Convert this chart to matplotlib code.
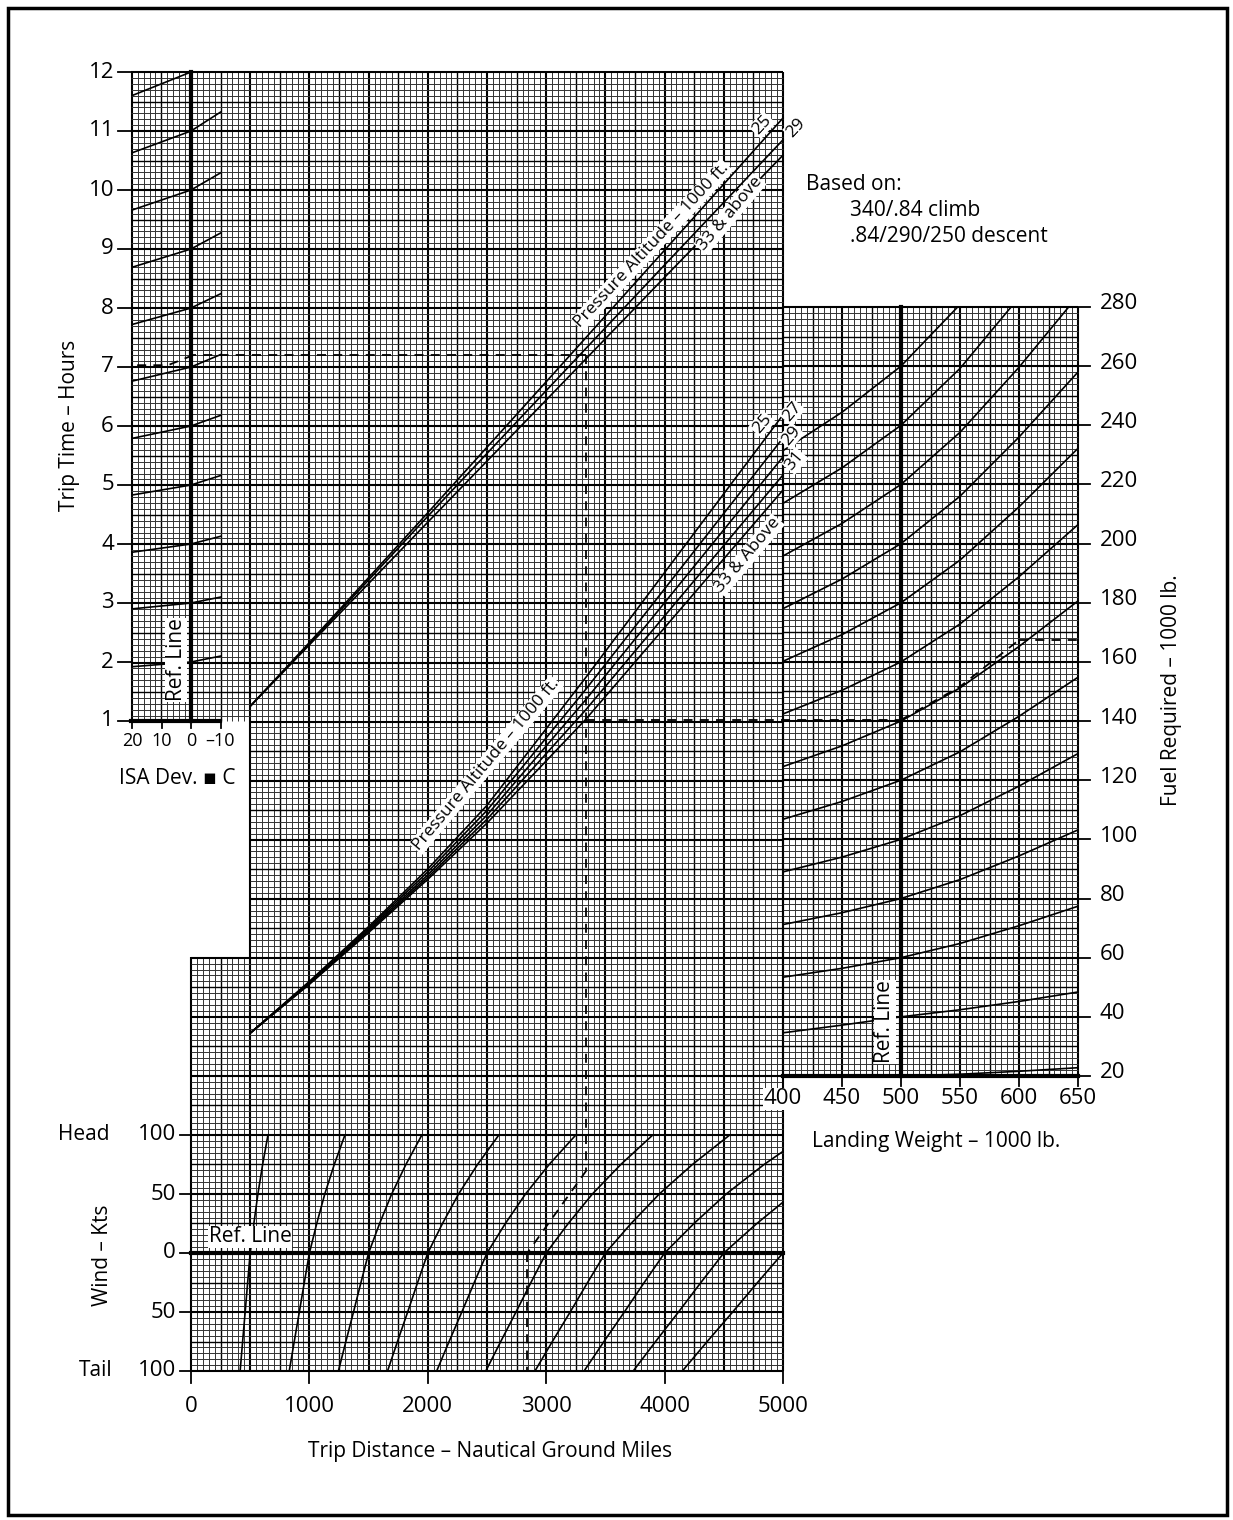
import numpy as np
import matplotlib
matplotlib.use("Agg")
import matplotlib.pyplot as plt
from matplotlib.collections import LineCollection
from matplotlib.patches import Rectangle

plt.rcParams['font.family'] = ['Open Sans', 'DejaVu Sans']

# ---- datos ----
hour_ticks = list(range(1, 13))
fuel_ticks = list(range(20, 281, 20))
dist_ticks = [0, 1000, 2000, 3000, 4000, 5000]
weight_ticks = [400, 450, 500, 550, 600, 650]
wind_ticks = [100, 50, 0, -50, -100]
wind_tick_labels = ['100', '50', '0', '50', '100']
isa_ticks = [20, 10, 0, -10]

# corrección ISA: tiempo en ISA +20, 0, -10
isa_dev = [20, 0, -10]
isa_base = [2, 3, 4, 5, 6, 7, 8, 9, 10, 11, 12]
isa_left = [1.92, 2.90, 3.86, 4.83, 5.79, 6.76, 7.72, 8.69, 9.66, 10.63, 11.60]
isa_right = [2.10, 3.10, 4.13, 5.16, 6.18, 7.21, 8.24, 9.27, 10.29, 11.32, 12.35]

# tiempo de viaje vs distancia (altitud de presión)
time_dist = [500, 1000, 1500, 2000, 3000, 4000, 5000]
time_alt25 = [1.25, 2.33, 3.43, 4.53, 6.75, 8.98, 11.22]
time_alt29 = [1.25, 2.31, 3.39, 4.47, 6.60, 8.73, 10.85]
time_alt33 = [1.25, 2.29, 3.33, 4.37, 6.44, 8.52, 10.59]

# combustible vs distancia
fuel_dist = [500, 1000, 1500, 2000, 2500, 3330, 5000]
fuel_alt25 = [34.5, 52.0, 70.5, 90.0, 111.5, 154.5, 243.5]
fuel_alt27 = [34.5, 51.7, 70.0, 89.0, 109.8, 150.5, 235.7]
fuel_alt29 = [34.5, 51.5, 69.5, 88.0, 108.2, 147.0, 229.3]
fuel_alt31 = [34.5, 51.2, 69.0, 87.2, 106.8, 143.6, 223.2]
fuel_alt33 = [34.5, 51.0, 68.5, 86.5, 105.5, 140.4, 218.1]

# corrección por peso de aterrizaje (razón respecto a la línea de referencia 500)
lw_weights = [400, 450, 500, 550, 600, 650]
lw_ref_fuel = [60, 80, 100, 120, 140, 160, 180, 200, 220, 240, 260]
lw_ratio = [0.89, 0.94, 1.0, 1.08, 1.18, 1.29]
lw_ratio_40 = [0.865, 0.93, 1.0, 1.06, 1.13, 1.21]
lw_ratio_20 = [np.nan, np.nan, 1.0, 1.03, 1.08, 1.14]

# corrección por viento (factor de distancia)
wind_kts = [-100, -75, -50, -25, 0, 25, 50, 75, 100]
wind_factor = [0.83, 0.872, 0.915, 0.957, 1.0, 1.062, 1.13, 1.21, 1.30]
wind_ref_dist = [500, 1000, 1500, 2000, 2500, 3000, 3500, 4000, 4500, 5000]

# ejemplo (líneas discontinuas)
ex_dist = 3340
ex_time = 7.2
ex_fuel = 140.4
ex_fuel_out = 167.4
ex_wind = 70
ex_ground = 2840


# ---- escalas (pixeles de la figura) ----
def px_dist(d): return 191 + np.asarray(d, float) * 0.1184
def py_time(t): return 721 - (np.asarray(t, float) - 1) * 59.0
def py_fuel(f): return 1076 - (np.asarray(f, float) - 20) * 2.958
def py_wind(w): return 1253 - np.asarray(w, float) * 1.18
def px_isa(i): return 191 - np.asarray(i, float) * 2.95
def px_wt(w): return 783 + (np.asarray(w, float) - 400) * 1.18


fig = plt.figure(figsize=(12.33, 15.2), dpi=100)
ax = fig.add_axes([0, 0, 1, 1])
ax.set_xlim(0, 1233)
ax.set_ylim(1520, 0)
ax.axis('off')

# marco exterior
ax.add_patch(Rectangle((8, 8), 1219, 1507, fill=False, lw=2.5, ec='black'))


def draw_grid(x0, x1, y0, y1, xs, ys):
    segs, lws, cols = [], [], []
    for i, x in xs:
        if x0 - 0.5 <= x <= x1 + 0.5:
            segs.append([(x, y0), (x, y1)])
            lws.append(1.5 if i % 10 == 0 else (1.0 if i % 5 == 0 else 0.7))
            cols.append('black' if i % 5 == 0 else '#333333')
    for j, y in ys:
        if y0 - 0.5 <= y <= y1 + 0.5:
            segs.append([(x0, y), (x1, y)])
            lws.append(1.5 if j % 10 == 0 else (1.0 if j % 5 == 0 else 0.7))
            cols.append('black' if j % 5 == 0 else '#333333')
    ax.add_collection(LineCollection(segs, linewidths=lws, colors=cols, zorder=1))


xs_main = [(k, 191 + k * 5.92) for k in range(-10, 101)]
ys_main = [(j, 72 + j * 5.905) for j in range(0, 221)]
draw_grid(131, 783, 72, 721, xs_main, ys_main)
draw_grid(250, 783, 721, 957, xs_main, ys_main)
draw_grid(191, 783, 957, 1371, xs_main, ys_main)
xs_d = [(k, 783 + k * 5.9) for k in range(0, 51)]
ys_d = [(j, 1076 - j * 5.916) for j in range(0, 131)]
draw_grid(783, 1078, 307, 1076, xs_d, ys_d)

# líneas de referencia
ax.plot([191, 191], [72, 721], color='black', lw=3, zorder=3)
ax.plot([131, 220], [721, 721], color='black', lw=3, zorder=3)
ax.plot([191, 783], [1253, 1253], color='black', lw=3, zorder=3)
ax.plot([901, 901], [307, 1076], color='black', lw=3, zorder=3)
ax.plot([783, 1078], [1076, 1076], color='black', lw=3, zorder=3)

clipA = Rectangle((131, 72), 652, 649, transform=ax.transData)
clipD = Rectangle((783, 307), 295, 769, transform=ax.transData)
clipC = Rectangle((191, 1135), 592, 236, transform=ax.transData)

# curvas ISA
for b, l, r in zip(isa_base, isa_left, isa_right):
    ln, = ax.plot(px_isa(isa_dev), py_time([l, b, r]), color='black', lw=1.2, zorder=4)
    ln.set_clip_path(clipA)

# tiempo de viaje
for arr in (time_alt25, time_alt29, time_alt33):
    ax.plot(px_dist(time_dist), py_time(arr), color='black', lw=1.2, zorder=4)

# combustible
for arr in (fuel_alt25, fuel_alt27, fuel_alt29, fuel_alt31, fuel_alt33):
    ax.plot(px_dist(fuel_dist), py_fuel(arr), color='black', lw=1.2, zorder=4)

# peso de aterrizaje
for f in lw_ref_fuel:
    ln, = ax.plot(px_wt(lw_weights), py_fuel(np.array(lw_ratio) * f), color='black', lw=1.2, zorder=4)
    ln.set_clip_path(clipD)
ax.plot(px_wt(lw_weights), py_fuel(np.array(lw_ratio_40) * 40), color='black', lw=1.2, zorder=4)
ax.plot(px_wt(lw_weights), py_fuel(np.array(lw_ratio_20) * 20), color='black', lw=1.2, zorder=4)

# viento
for d in wind_ref_dist:
    ln, = ax.plot(px_dist(np.array(wind_factor) * d), py_wind(wind_kts), color='black', lw=1.2, zorder=4)
    ln.set_clip_path(clipC)

# ejemplo discontinuo
dkw = dict(color='black', lw=1.3, ls=(0, (5, 4)), zorder=5)
ax.plot(px_dist([ex_dist, ex_dist]), [py_time(ex_time), py_wind(ex_wind)], **dkw)
ax.plot([px_dist(ex_dist), 193], [py_time(ex_time), py_time(ex_time)], **dkw)
ax.plot([193, 168, 135], [py_time(ex_time), py_time(ex_time) + 10, py_time(ex_time) + 10], **dkw)
ax.plot([px_dist(ex_dist), px_wt(500)], [py_fuel(ex_fuel), py_fuel(ex_fuel)], **dkw)
ax.plot(px_wt([500, 550, 600]), py_fuel([ex_fuel, ex_fuel * 1.08, ex_fuel_out]), **dkw)
ax.plot([px_wt(600), 1078], [py_fuel(ex_fuel_out)] * 2, **dkw)
ax.plot(px_dist([ex_dist, ex_ground]), py_wind([ex_wind, 0]), **dkw)
ax.plot(px_dist([ex_ground, ex_ground]), py_wind([0, -100]), **dkw)

# ejes y marcas
fs = 16
for h in hour_ticks:
    y = py_time(h)
    ax.plot([118, 131], [y, y], color='black', lw=1.3)
    ax.text(114, y, str(h), ha='right', va='center', fontsize=fs)
for f in fuel_ticks:
    y = py_fuel(f)
    ax.plot([1078, 1090], [y, y], color='black', lw=1.3)
    ax.text(1100, y - 3, str(f), ha='left', va='center', fontsize=fs)
for d in dist_ticks:
    x = px_dist(d)
    ax.plot([x, x], [1371, 1383], color='black', lw=1.3)
    ax.text(x, 1406, str(d), ha='center', va='center', fontsize=fs)
for w in weight_ticks:
    x = px_wt(w)
    ax.plot([x, x], [1076, 1086], color='black', lw=1.3)
    ax.text(x, 1099, str(w), ha='center', va='center', fontsize=fs,
            bbox=dict(fc='white', ec='none', pad=0.5))
for w, lab in zip(wind_ticks, wind_tick_labels):
    y = py_wind(w)
    ax.plot([180, 191], [y, y], color='black', lw=1.3)
    ax.text(176, y, lab, ha='right', va='center', fontsize=fs)
for i in isa_ticks:
    x = px_isa(i)
    ax.plot([x, x], [721, 728], color='black', lw=1.3)
    ax.text(x, 741, str(i).replace('-', '–'), ha='center', va='center', fontsize=13)

ax.text(70, 425, 'Trip Time – Hours', rotation=90, ha='center', va='center', fontsize=15)
ax.text(1172, 690, 'Fuel Required – 1000 lb.', rotation=90, ha='center', va='center', fontsize=15)
ax.text(102, 1255, 'Wind – Kts', rotation=90, ha='center', va='center', fontsize=15)
ax.text(84, 1135, 'Head', ha='center', va='center', fontsize=15)
ax.text(96, 1371, 'Tail', ha='center', va='center', fontsize=15)
ax.text(490, 1452, 'Trip Distance – Nautical Ground Miles', ha='center', va='center', fontsize=15)
ax.text(936, 1142, 'Landing Weight – 1000 lb.', ha='center', va='center', fontsize=15)
ax.text(177, 779, 'ISA Dev. ▪ C', ha='center', va='center', fontsize=15)
ax.text(806, 184, 'Based on:', ha='left', va='center', fontsize=15)
ax.text(850, 210, '340/.84 climb', ha='left', va='center', fontsize=15)
ax.text(850, 237, '.84/290/250 descent', ha='left', va='center', fontsize=15)

box = dict(fc='white', ec='none', pad=0.6)
ax.text(176, 660, 'Ref. Line', rotation=90, ha='center', va='center', fontsize=15, bbox=box, zorder=6)
ax.text(885, 1022, 'Ref. Line', rotation=90, ha='center', va='center', fontsize=15, bbox=box, zorder=6)
ax.text(250, 1237, 'Ref. Line', ha='center', va='center', fontsize=15, bbox=box, zorder=6)

lab = dict(ha='center', va='center', fontsize=12.5, bbox=box, zorder=6, rotation_mode='anchor')
ax.text(652, 245, 'Pressure Altitude – 1000 ft.', rotation=47, **lab)
ax.text(762, 125, '25', rotation=47, **lab)
ax.text(796, 128, '29', rotation=47, **lab)
ax.text(730, 214, '33 & above', rotation=50, **lab)
ax.text(486, 765, 'Pressure Altitude – 1000 ft.', rotation=50, **lab)
ax.text(762, 424, '25', rotation=50, **lab)
ax.text(792, 412, '27', rotation=50, **lab)
ax.text(791, 436, '29', rotation=50, **lab)
ax.text(795, 461, '31', rotation=50, **lab)
ax.text(748, 555, '33 & Above', rotation=50, **lab)

fig.savefig('out.png', dpi=100)
